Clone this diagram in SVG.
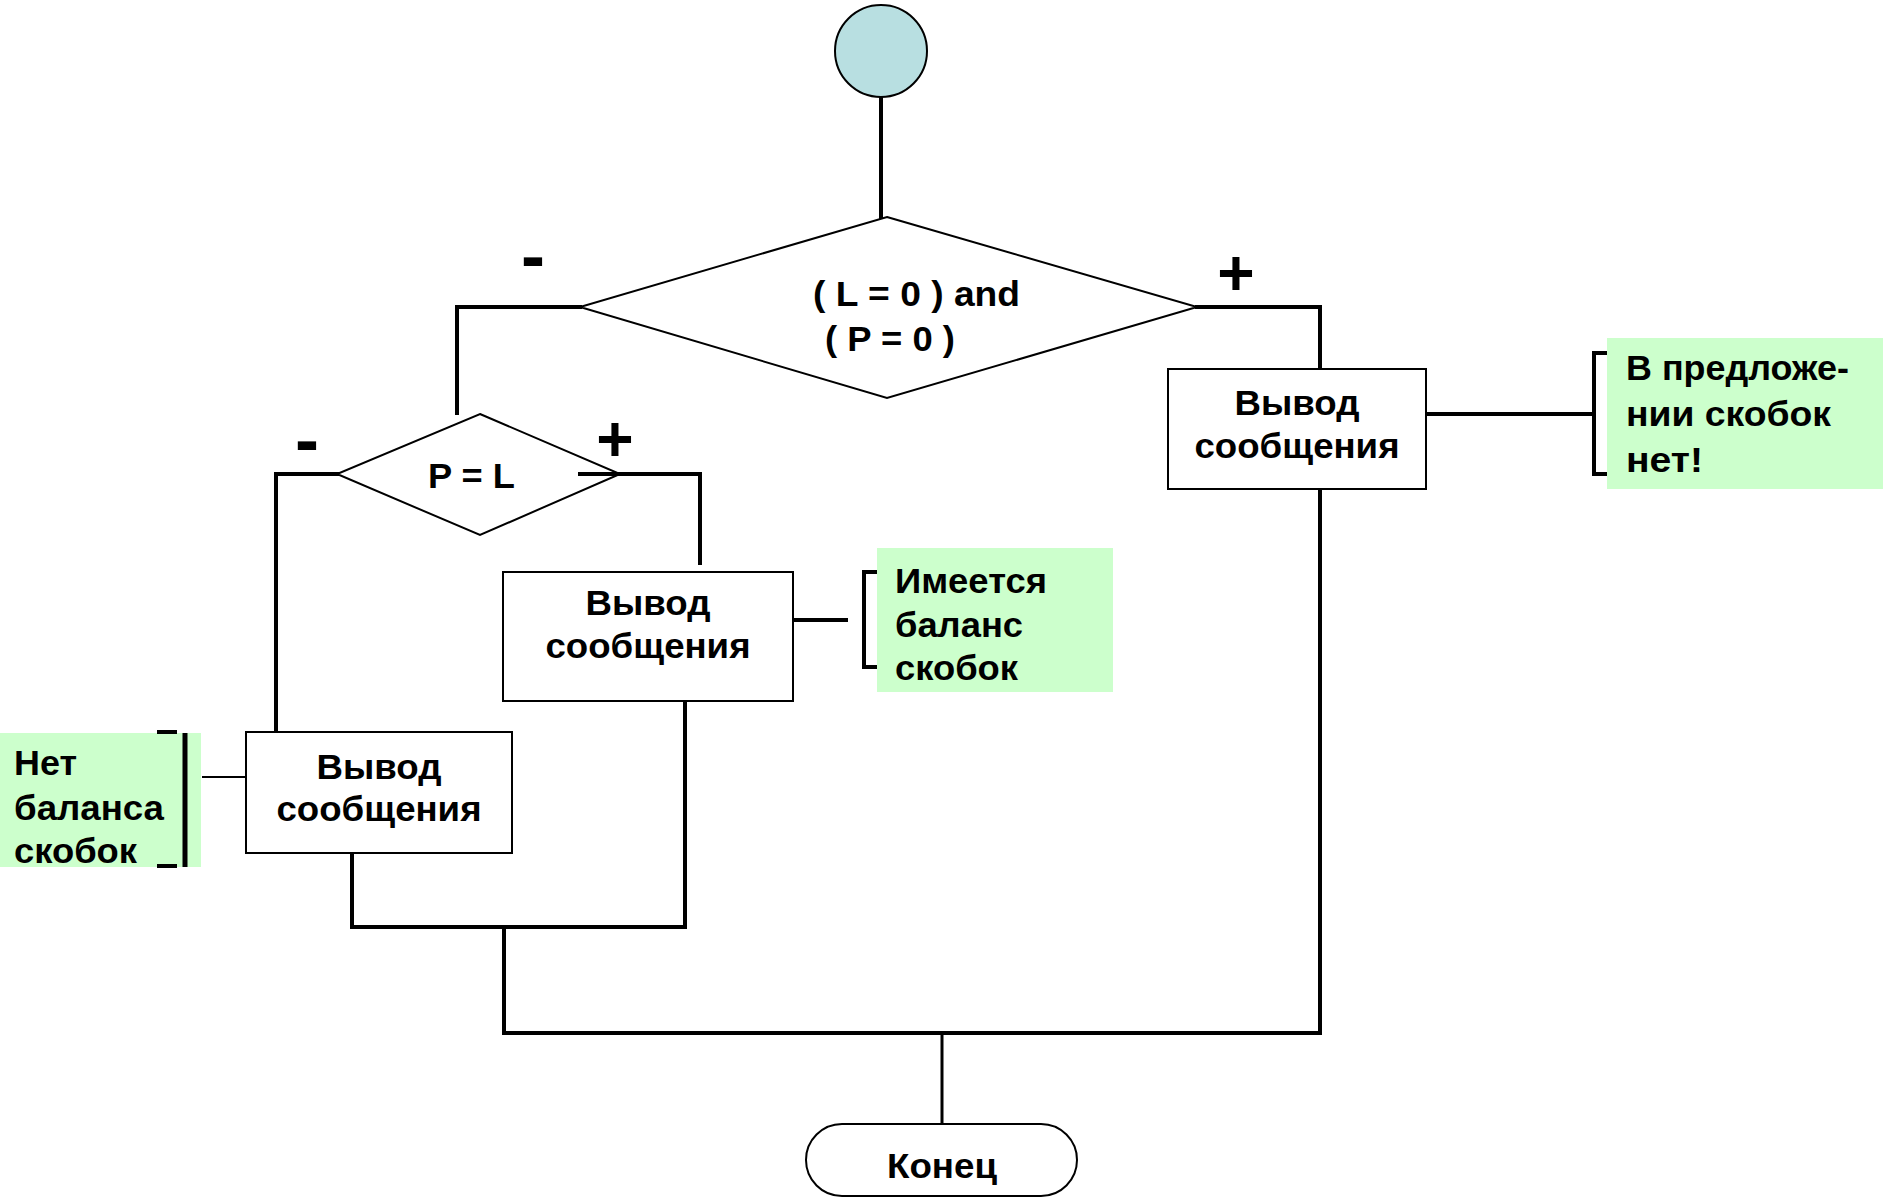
<svg xmlns="http://www.w3.org/2000/svg" width="1883" height="1197" viewBox="0 0 1883 1197">
<style>
.shape{fill:#fff;stroke:#000;stroke-width:2}
.note{fill:#CCFFCC;stroke:none}
.t{font-family:"Liberation Sans",Arial,sans-serif;font-weight:bold;font-size:35px;fill:#000}
.c{text-anchor:middle}
.sign{font-family:"Liberation Sans",Arial,sans-serif;font-weight:bold;fill:#000;text-anchor:middle}
.conn{fill:none;stroke:#000;stroke-width:4;stroke-linecap:square}
.thin{fill:none;stroke:#000;stroke-width:2}
</style>
<rect width="1883" height="1197" fill="#fff"/>
<g id="connectors">
<path class="conn" d="M881,97 V217"/>
<path class="conn" d="M1197,307 H1320 V369"/>
<path class="conn" d="M580,307 H457 V413"/>
<path class="conn" d="M337,474 H276 V731"/>
<path class="conn" d="M580,474 H700 V563"/>
<path class="conn" d="M1427,414 H1594"/>
<path class="conn" d="M796,620 H846"/>
<path class="thin" d="M202,777 H247"/>
<path class="conn" d="M1320,489 V1033"/>
<path class="conn" d="M685,701 V927"/>
<path class="conn" d="M352,853 V927 H685"/>
<path class="conn" d="M504,927 V1033 H1320"/>
<path class="conn" style="stroke-width:3" d="M942,1033 V1124"/>
</g>
<g id="start">
<circle cx="881" cy="51" r="46" fill="#B8DFE1" stroke="#000" stroke-width="2"/>
</g>
<g id="cond1">
<polygon class="shape" points="887,217 1197,307 887,398 580,307"/>
<text class="t" x="813" y="306" textLength="207" lengthAdjust="spacingAndGlyphs">( L = 0 ) and</text>
<text class="t" x="825" y="351" textLength="130" lengthAdjust="spacingAndGlyphs">( P = 0 )</text>
<text class="sign" x="533" y="280" font-size="72">-</text>
<text class="sign" x="1236" y="295" font-size="64">+</text>
</g>
<g id="cond2">
<polygon class="shape" points="480,414 620,474 480,535 337,474"/>
<path class="conn" d="M580,474 H620"/>
<text class="t" x="428" y="488" textLength="87" lengthAdjust="spacingAndGlyphs">P = L</text>
<text class="sign" x="307" y="464" font-size="72">-</text>
<text class="sign" x="615" y="461" font-size="64">+</text>
</g>
<g id="out-right">
<rect class="shape" x="1168" y="369" width="258" height="120"/>
<text class="t c" x="1297" y="415" textLength="125" lengthAdjust="spacingAndGlyphs">Вывод</text>
<text class="t c" x="1297" y="458" textLength="205" lengthAdjust="spacingAndGlyphs">сообщения</text>
</g>
<g id="out-middle">
<rect class="shape" x="503" y="572" width="290" height="129"/>
<text class="t c" x="648" y="615" textLength="125" lengthAdjust="spacingAndGlyphs">Вывод</text>
<text class="t c" x="648" y="658" textLength="205" lengthAdjust="spacingAndGlyphs">сообщения</text>
</g>
<g id="out-left">
<rect class="shape" x="246" y="732" width="266" height="121"/>
<text class="t c" x="379" y="779" textLength="125" lengthAdjust="spacingAndGlyphs">Вывод</text>
<text class="t c" x="379" y="821" textLength="205" lengthAdjust="spacingAndGlyphs">сообщения</text>
</g>
<g id="end">
<rect class="shape" x="806" y="1124" width="271" height="72" rx="36" ry="36"/>
<text class="t c" x="942" y="1178" textLength="110" lengthAdjust="spacingAndGlyphs">Конец</text>
</g>
<g id="note-right">
<rect class="note" x="1607" y="338" width="276" height="151"/>
<path class="conn" style="stroke-linecap:butt" d="M1607,353 H1594 V474 H1607"/>
<text class="t" x="1626" y="380" textLength="223" lengthAdjust="spacingAndGlyphs">В предложе-</text>
<text class="t" x="1626" y="426" textLength="205" lengthAdjust="spacingAndGlyphs">нии скобок</text>
<text class="t" x="1626" y="472" textLength="77" lengthAdjust="spacingAndGlyphs">нет!</text>
</g>
<g id="note-middle">
<rect class="note" x="877" y="548" width="236" height="144"/>
<path class="conn" style="stroke-linecap:butt" d="M877,572 H864 V667 H877"/>
<text class="t" x="895" y="593" textLength="152" lengthAdjust="spacingAndGlyphs">Имеется</text>
<text class="t" x="895" y="637" textLength="128" lengthAdjust="spacingAndGlyphs">баланс</text>
<text class="t" x="895" y="680" textLength="123" lengthAdjust="spacingAndGlyphs">скобок</text>
</g>
<g id="note-left">
<rect class="note" x="0" y="733" width="201" height="134"/>
<path class="conn" style="stroke-width:5;stroke-linecap:butt" d="M185,733 V867"/>
<path class="conn" style="stroke-linecap:butt" d="M157,732 H177 M157,866 H177"/>
<text class="t" x="14" y="775" textLength="63" lengthAdjust="spacingAndGlyphs">Нет</text>
<text class="t" x="14" y="820" textLength="150" lengthAdjust="spacingAndGlyphs">баланса</text>
<text class="t" x="14" y="863" textLength="123" lengthAdjust="spacingAndGlyphs">скобок</text>
</g>
</svg>
